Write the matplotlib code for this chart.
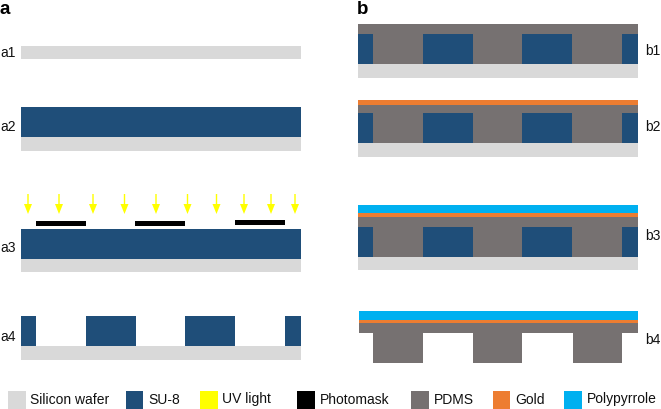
import matplotlib
matplotlib.use("Agg")
import matplotlib.pyplot as plt

plt.rcParams['font.family'] = ['Liberation Sans', 'DejaVu Sans']

WAFER = '#D9D9D9'
SU8 = '#1F4E79'
UV = '#FFFF00'
MASK = '#000000'
PDMS = '#767171'
GOLD = '#ED7D31'
PPY = '#00B0F0'

# Legend
legend_names = ['Silicon wafer', 'SU-8', 'UV light', 'Photomask', 'PDMS', 'Gold', 'Polypyrrole']
legend_colors = [WAFER, SU8, UV, MASK, PDMS, GOLD, PPY]
legend_x = [8, 125.5, 200, 297, 411, 492.7, 564]

# Horizontal spans of layers
left_span = (21, 300.5)
right_span = (358, 637.5)
b4_span = (359, 637.5)
a_blocks = [(21, 36), (86, 135.5), (185, 234.5), (285, 300.5)]
b_blocks = [(358, 373), (423, 472.5), (522, 571.5), (622, 637.5)]
b4_teeth = [(373, 422.5), (472.5, 522), (572.5, 621.5)]
masks = [(36, 86, 221, 226), (135, 185, 221, 226), (234.5, 285, 220, 224.5)]
arrow_x = [28, 59, 93, 124.5, 156, 187.5, 216.5, 244, 271, 295]
arrow_y = (194, 214)

# Layer depths (top, bottom)
a1_wafer = (46, 59)
a2_su8, a2_wafer = (107, 136.5), (136.5, 151)
a3_su8, a3_wafer = (229, 259), (259, 272)
a4_su8, a4_wafer = (315.5, 346), (346, 360)
b1_pdms, b1_su8, b1_wafer = (24, 64), (34, 64), (64, 78)
b2_gold, b2_pdms, b2_su8, b2_wafer = (100, 105), (105, 143), (113, 143), (143, 157)
b3_ppy, b3_gold, b3_pdms, b3_su8, b3_wafer = (205.3, 213.3), (213.3, 217), (217, 257), (226.7, 257), (257, 270)
b4_ppy, b4_gold, b4_base, b4_tooth = (311.3, 319.5), (319.5, 323), (323, 332.5), (332.5, 362.5)

# Step labels
a_labels = [('a1', 53), ('a2', 127), ('a3', 248), ('a4', 337)]
b_labels = [('b1', 51), ('b2', 127), ('b3', 236), ('b4', 340)]

fig = plt.figure(figsize=(6.61, 4.09), dpi=100)
ax = fig.add_axes([0, 0, 1, 1])
ax.set_xlim(0, 661)
ax.set_ylim(409, 0)
ax.axis('off')


def layer(span, depth, color):
    ax.fill_between(span, depth[0], depth[1], color=color, lw=0)


# Panel a
layer(left_span, a1_wafer, WAFER)
layer(left_span, a2_su8, SU8)
layer(left_span, a2_wafer, WAFER)
layer(left_span, a3_su8, SU8)
layer(left_span, a3_wafer, WAFER)
for b in a_blocks:
    layer(b, a4_su8, SU8)
layer(left_span, a4_wafer, WAFER)
for x0, x1, y0, y1 in masks:
    layer((x0, x1), (y0, y1), MASK)
for x in arrow_x:
    ax.arrow(x, arrow_y[0], 0, arrow_y[1] - arrow_y[0], width=1.4, head_width=8,
             head_length=10, length_includes_head=True, color=UV, lw=0)

# Panel b
layer(right_span, b1_pdms, PDMS)
layer(right_span, b1_wafer, WAFER)
layer(right_span, b2_gold, GOLD)
layer(right_span, b2_pdms, PDMS)
layer(right_span, b2_wafer, WAFER)
layer(right_span, b3_ppy, PPY)
layer(right_span, b3_gold, GOLD)
layer(right_span, b3_pdms, PDMS)
layer(right_span, b3_wafer, WAFER)
for b in b_blocks:
    layer(b, b1_su8, SU8)
    layer(b, b2_su8, SU8)
    layer(b, b3_su8, SU8)
layer(b4_span, b4_ppy, PPY)
layer(b4_span, b4_gold, GOLD)
layer(b4_span, b4_base, PDMS)
for t in b4_teeth:
    layer(t, b4_tooth, PDMS)

# Text
for name, y in a_labels:
    ax.text(0.5, y, name, fontsize=10, ha='left', va='center', color='#111111')
for name, y in b_labels:
    ax.text(645, y, name, fontsize=10, ha='left', va='center', color='#111111')
ax.text(0, 9, 'a', fontsize=13.5, fontweight='bold', ha='left', va='center')
ax.text(357, 9, 'b', fontsize=13.5, fontweight='bold', ha='left', va='center')

# Legend
for name, color, x in zip(legend_names, legend_colors, legend_x):
    layer((x, x + 17.5), (390.7, 408.7), color)
    ax.text(x + 22.5, 399.5, name, fontsize=10, ha='left', va='center', color='#111111')

fig.savefig('out.png', dpi=100)
